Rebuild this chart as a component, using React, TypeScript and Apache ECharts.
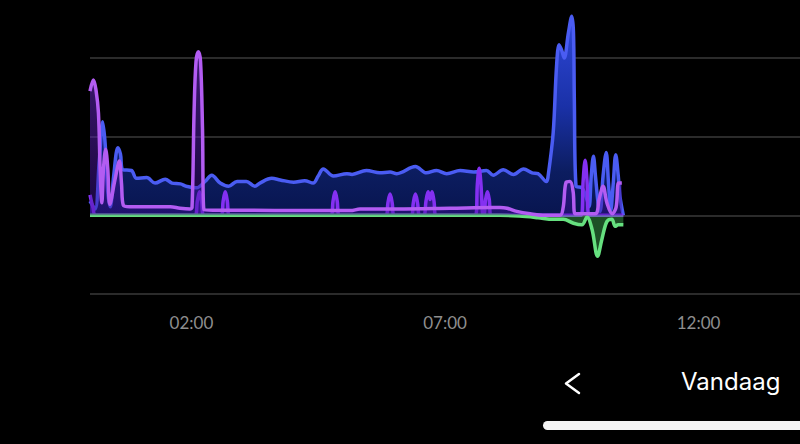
import React, { useEffect, useRef } from "react";
import * as echarts from "echarts";

// x values are minutes since 00:00, y values in kW
const tickMinutes = [120, 420, 720];
const tickLabels = ["02:00", "07:00", "12:00"];

const consumption: [number, number][] = [
  [0, 0.18], [6, 0.08], [11, 0.7], [15, 1.19], [18, 0.9], [21, 0.3], [24, 0.11],
  [28, 0.5], [33, 0.86], [36, 0.78], [39, 0.58], [49, 0.57], [55, 0.47], [67, 0.48],
  [77, 0.41], [89, 0.46], [97, 0.41], [107, 0.4], [114, 0.37], [126, 0.35], [136, 0.43],
  [144, 0.51], [154, 0.41], [164, 0.37], [174, 0.43], [185, 0.43], [195, 0.37], [201, 0.41],
  [215, 0.47], [225, 0.45], [241, 0.42], [254, 0.44], [264, 0.41], [270, 0.5], [276, 0.59],
  [288, 0.5], [304, 0.53], [310, 0.52], [327, 0.57], [343, 0.54], [355, 0.55], [363, 0.53],
  [385, 0.62], [398, 0.54], [410, 0.57], [422, 0.53], [438, 0.57], [454, 0.55], [469, 0.57],
  [477, 0.51], [489, 0.58], [501, 0.52], [513, 0.59], [523, 0.54], [530, 0.53], [540, 0.43],
  [542, 0.5], [548, 1.05], [552, 1.9], [555, 2.17], [558, 2.1], [561, 2.0], [566, 2.32],
  [570, 2.53], [572, 2.32], [573, 1.47], [575, 0.37], [582, 0.35], [588, 0.2], [590.5, 0.11],
  [593, 0.5], [595.6, 0.75], [598, 0.5], [601.5, 0.12], [603.5, 0.05], [607, 0.5],
  [610.7, 0.8], [613.5, 0.4], [616, 0.06], [619, 0.4], [622, 0.77], [625, 0.5], [627, 0.24],
  [631, 0.0],
];

const battery: [number, number][] = [
  [0, 1.58], [4, 1.72], [7, 1.6], [10, 1.3], [12, 0.58], [14, 0.16], [16, 0.6], [18.5, 0.84],
  [21, 0.6], [23.5, 0.14], [29.5, 0.45], [34.7, 0.69], [37.3, 0.4], [39.4, 0.13], [47, 0.11],
  [71, 0.11], [95, 0.11], [106.5, 0.09], [118.3, 0.08], [120.7, 0.1], [123.1, 1.3],
  [125.4, 1.95], [128.2, 2.08], [130.8, 1.95], [133.1, 1.1], [134.9, 0.07], [145.6, 0.065],
  [189, 0.065], [248, 0.06], [308, 0.06], [319.5, 0.08], [363, 0.08], [426, 0.09], [477, 0.1],
  [485, 0.1], [493.5, 0.09], [505, 0.05], [520.7, 0.02], [538.5, 0.0], [556, 0.0],
  [559.8, 0.1], [563.3, 0.42], [568, 0.43], [571.6, 0.3], [574, 0.02], [597.6, 0.02],
  [602.3, 0.2], [607, 0.37], [611.8, 0.15], [617.7, 0.02], [622.4, 0.1], [625.4, 0.41],
  [629.2, 0.41],
];

const heating: [number, number][] = [
  [0, 0.26], [3.5, 0.1], [7, 0], [124, 0], [127, 0.18], [129.5, 0.3], [132, 0.18], [135, 0],
  [155, 0], [157.5, 0.18], [160, 0.3], [162.5, 0.18], [165, 0], [285, 0], [287.5, 0.18],
  [290, 0.3], [292.5, 0.18], [295, 0], [350, 0], [352.5, 0.16], [355, 0.27], [357.5, 0.16],
  [360, 0], [380, 0], [382.5, 0.16], [385, 0.27], [387.5, 0.16], [390, 0], [395, 0],
  [397.5, 0.18], [400, 0.3], [402.3, 0.2], [404.7, 0.3], [407, 0.18], [409.5, 0], [456, 0],
  [458.3, 0.4], [460.4, 0.6], [462.5, 0.4], [465, 0], [466, 0], [468, 0.2], [470.2, 0.3],
  [472.4, 0.2], [474.5, 0], [581, 0], [583.5, 0.45], [585.8, 0.7], [588, 0.45], [590.5, 0],
  [631, 0],
];

const production: [number, number][] = [
  [0, 0], [485, 0], [508, -0.01], [530, -0.03], [548, -0.05], [560, -0.05], [572, -0.1],
  [582, -0.12], [588, -0.02], [594, -0.18], [600.5, -0.52], [605.5, -0.31], [611.5, -0.08],
  [617.4, -0.05], [621.3, -0.14], [625, -0.12], [631, -0.12],
];

export default function App() {
  const ref = useRef<HTMLDivElement>(null);
  useEffect(() => {
    if (!ref.current) return;
    const chart = echarts.init(ref.current, undefined, { renderer: "svg" });
    const lineBase = { type: "line", symbol: "none", smooth: 0.35, clip: false, silent: true };
    chart.setOption({
      animation: false,
      backgroundColor: "#000000",
      grid: { left: 90, right: 0, top: 58, bottom: 150 },
      xAxis: {
        type: "value",
        min: 0,
        max: 840,
        interval: 60,
        axisLine: { show: false },
        axisTick: { show: false },
        splitLine: { show: false },
        axisLabel: {
          customValues: tickMinutes,
          margin: 20,
          color: "#8e8e8e",
          fontFamily: "Lato",
          fontSize: 17,
          formatter: (v: number) => {
            const i = tickMinutes.indexOf(v);
            return i >= 0 ? tickLabels[i] : "";
          },
        },
      },
      yAxis: {
        type: "value",
        min: -1,
        max: 2,
        interval: 1,
        axisLine: { show: false },
        axisTick: { show: false },
        axisLabel: { show: false },
        splitLine: { lineStyle: { color: "#3a3a3a", width: 1.5 } },
      },
      series: [
        {
          ...lineBase,
          name: "Verbruik",
          data: consumption,
          lineStyle: { color: "#4a5cf2", width: 3.5 },
          areaStyle: {
            color: new echarts.graphic.LinearGradient(0, 0, 0, 1, [
              { offset: 0, color: "#2f48d8" },
              { offset: 0.45, color: "#1a31a8" },
              { offset: 0.78, color: "#0c1d60" },
              { offset: 1, color: "#08154f" },
            ]),
            opacity: 1,
          },
          z: 1,
        },
        {
          ...lineBase,
          name: "Verwarming",
          data: heating,
          lineStyle: { color: "#8430f2", width: 3.5 },
          areaStyle: { color: "rgba(95,30,200,0.6)" },
          z: 2,
        },
        {
          ...lineBase,
          name: "Opwek",
          data: production,
          lineStyle: { color: "#66e07f", width: 3.5 },
          areaStyle: { color: "rgba(70,190,90,0.6)" },
          z: 3,
        },
        {
          ...lineBase,
          name: "Batterij",
          data: battery,
          lineStyle: { color: "#b35cf2", width: 3.5 },
          areaStyle: {
            color: new echarts.graphic.LinearGradient(0, 0, 0, 1, [
              { offset: 0, color: "rgba(120,50,220,0.75)" },
              { offset: 1, color: "rgba(60,15,150,0.6)" },
            ]),
          },
          z: 4,
        },
      ],
      graphic: [
        {
          type: "polyline",
          shape: { points: [[579, 374], [566, 383.5], [579, 393]] },
          style: { stroke: "#ffffff", lineWidth: 2.5, fill: "none", lineCap: "round", lineJoin: "round" },
        },
        {
          type: "text",
          x: 681,
          y: 381,
          style: {
            text: "Vandaag",
            fill: "#ffffff",
            fontSize: 24,
            fontFamily: "Inter",
            verticalAlign: "middle",
            align: "left",
          },
        },
        {
          type: "rect",
          shape: { x: 543, y: 421, width: 280, height: 9, r: 4.5 },
          style: { fill: "#f4f4f4" },
        },
      ],
    });
    return () => chart.dispose();
  }, []);
  return (
    <div
      ref={ref}
      style={{ position: "fixed", left: 0, top: 0, width: 800, height: 444, background: "#000" }}
    />
  );
}
